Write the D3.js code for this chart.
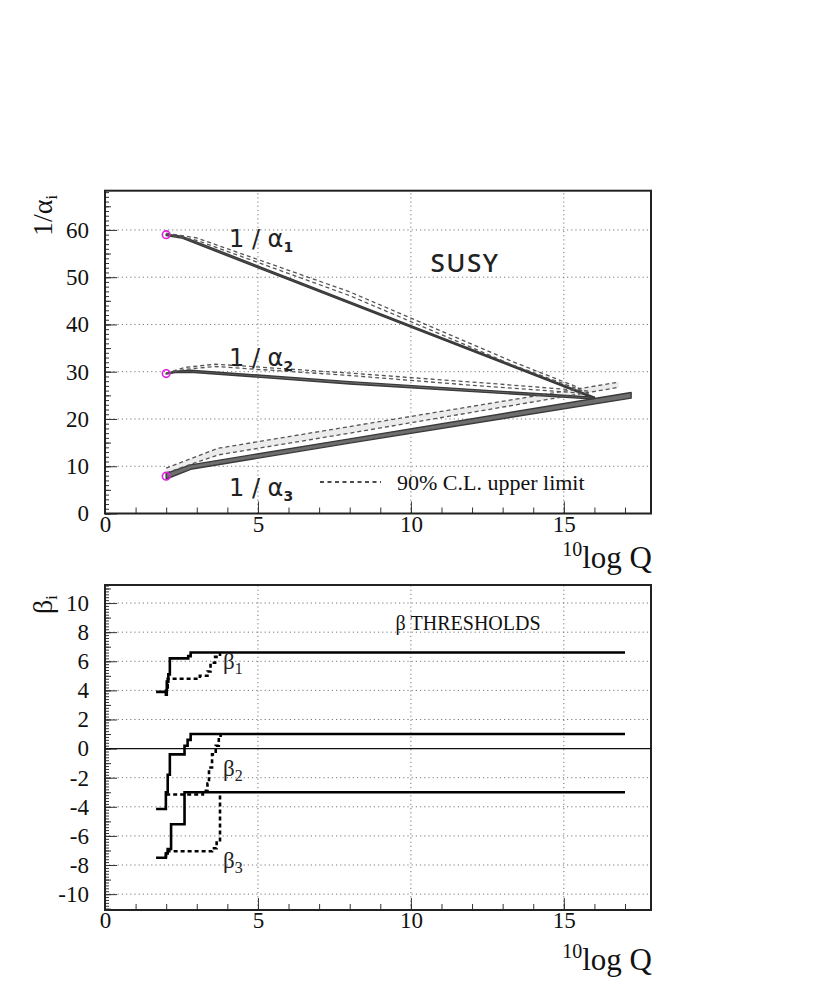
<!DOCTYPE html>
<html>
<head>
<meta charset="utf-8">
<script src="https://cdn.jsdelivr.net/npm/d3@7"></script>
<style>
  body { margin: 0; background: #fff; }
  text { font-family: "Liberation Serif", "Times New Roman", serif; }
</style>
</head>
<body>
<div id="chart"></div>
<script>
// ---- data ----
const xTicks = [0, 5, 10, 15];
const alphaTicks = [0, 10, 20, 30, 40, 50, 60];
const betaTicks = [-10, -8, -6, -4, -2, 0, 2, 4, 6, 8, 10];

// 1/alpha_i, solid band (upper / lower edge)
const alpha1Upper = [[2, 59.1], [2.5, 58.7], [16.0, 24.6]];
const alpha1Lower = [[2, 58.8], [2.5, 58.3], [16.0, 24.3]];
const alpha2Upper = [[2, 29.7], [2.3, 30.1], [2.8, 30.3], [8, 27.9], [16.0, 24.6]];
const alpha2Lower = [[2, 29.5], [2.3, 29.8], [2.8, 29.9], [8, 27.4], [16.0, 24.2]];
const alpha3Upper = [[2, 8.5], [2.8, 10.3], [8, 15.8], [17.2, 25.6]];
const alpha3Lower = [[2, 7.3], [2.8, 9.35], [8, 14.9], [17.2, 24.4]];

// 90% C.L. upper limit (dashed pairs)
const alpha1DashUp = [[2, 59.3], [3.0, 58.3], [8, 46.9], [13.3, 32.2], [15.5, 26.6]];
const alpha1DashLo = [[2, 59.0], [3.0, 57.8], [8, 46.1], [13.3, 31.5], [15.6, 26.0]];
const alpha2DashUp = [[2, 29.7], [2.6, 30.9], [3.6, 31.6], [8, 29.7], [12.25, 27.7], [15.8, 25.9]];
const alpha2DashLo = [[2, 29.6], [2.6, 30.5], [3.6, 31.1], [8, 29.2], [12.25, 27.0], [15.9, 25.3]];
const alpha3DashUp = [[2, 9.6], [3.7, 13.8], [8, 18.4], [16.8, 27.8]];
const alpha3DashLo = [[2, 8.6], [3.7, 12.4], [8, 17.0], [16.8, 26.7]];

// starting values at 10log Q = 2
const alphaStart = [59.0, 29.6, 7.9];

// beta thresholds: solid / dashed step lines
const beta1Solid = [[1.67, 3.9], [1.99, 3.9], [1.99, 3.7], [2.02, 3.7], [2.02, 4.6], [2.07, 4.6], [2.07, 5.1],
  [2.12, 5.1], [2.12, 6.2], [2.72, 6.2], [2.72, 6.35], [2.8, 6.35], [2.8, 6.6], [17, 6.6]];
const beta1Dash = [[2.0, 3.8], [2.0, 4.2], [2.05, 4.2], [2.05, 4.8], [3.1, 4.8], [3.1, 5.0], [3.35, 5.0],
  [3.35, 5.3], [3.45, 5.3], [3.45, 5.9], [3.6, 5.9], [3.6, 6.3], [3.76, 6.3], [3.76, 6.6]];
const beta2Solid = [[1.67, -4.15], [1.99, -4.15], [1.99, -3.0], [2.05, -3.0], [2.05, -1.8], [2.12, -1.8],
  [2.12, -0.4], [2.6, -0.4], [2.6, 0.2], [2.7, 0.2], [2.7, 0.6], [2.8, 0.6], [2.8, 1.0], [17, 1.0]];
const beta2Dash = [[2.0, -3.15], [3.2, -3.15], [3.2, -2.9], [3.35, -2.9], [3.35, -2.4], [3.4, -2.4],
  [3.4, -1.3], [3.5, -1.3], [3.5, -0.4], [3.62, -0.4], [3.62, 0.2], [3.72, 0.2], [3.72, 0.8], [3.78, 0.8], [3.78, 1.0]];
const beta3Solid = [[1.67, -7.5], [1.99, -7.5], [1.99, -7.2], [2.05, -7.2], [2.05, -6.9], [2.16, -6.9],
  [2.16, -5.2], [2.6, -5.2], [2.6, -3.0], [17, -3.0]];
const beta3Dash = [[1.99, -7.5], [2.0, -7.05], [3.5, -7.05], [3.5, -6.85], [3.65, -6.85], [3.65, -6.3],
  [3.76, -6.3], [3.76, -3.0]];

// ---- layout ----
const W = 817, H = 981;
const left = 105, right = 651;

const svg = d3.select("#chart").append("svg")
  .attr("width", W).attr("height", H)
  .attr("viewBox", [0, 0, W, H].join(" "));

const x = d3.scaleLinear().domain([0, 17.85]).range([left, right]);
const yTop = d3.scaleLinear().domain([0, 68.3]).range([513.5, 190.7]);
const yBot = d3.scaleLinear().domain([-11.09, 11.24]).range([910, 585]);

function range(a, b, step) {
  return d3.range(Math.round(a / step), Math.round(b / step) + 1).map(i => +(i * step).toFixed(4));
}

// draws frame, grid, ticks and tick labels of one panel
function panel(y, yMajor, yMinorStep, yMidStep, gridY, titleOffset) {
  const [y0, y1] = y.range();
  const g = svg.append("g");

  // dotted grid
  g.selectAll(".gx").data(xTicks.filter(d => d > 0)).enter().append("line")
    .attr("x1", d => x(d)).attr("x2", d => x(d)).attr("y1", y0).attr("y2", y1)
    .attr("stroke", "#777").attr("stroke-width", 1).attr("stroke-dasharray", "1.2,3");
  g.selectAll(".gy").data(gridY).enter().append("line")
    .attr("x1", left).attr("x2", right).attr("y1", d => y(d)).attr("y2", d => y(d))
    .attr("stroke", "#777").attr("stroke-width", 1).attr("stroke-dasharray", "1.2,3");

  // y ticks, pointing inwards
  const yd = y.domain();
  const yMinor = range(Math.ceil(yd[0] / yMinorStep) * yMinorStep, Math.floor(yd[1] / yMinorStep) * yMinorStep, yMinorStep);
  g.append("g").attr("transform", `translate(${left},0)`)
    .call(d3.axisLeft(y).tickValues(yMinor).tickSize(-4).tickFormat(""))
    .call(a => a.select(".domain").remove());
  g.append("g").attr("transform", `translate(${left},0)`)
    .call(d3.axisLeft(y).tickValues(yMinor.filter(v => Math.abs(v / yMidStep - Math.round(v / yMidStep)) < 1e-6)).tickSize(-6).tickFormat(""))
    .call(a => a.select(".domain").remove());
  g.append("g").attr("transform", `translate(${left},0)`)
    .call(d3.axisLeft(y).tickValues(yMajor).tickSizeInner(-12).tickSizeOuter(0).tickPadding(16).tickFormat(d => String(d)))
    .call(a => a.select(".domain").remove())
    .call(a => a.selectAll("text").style("font-size", "23px").attr("fill", "#111"));

  // x ticks, pointing inwards
  g.append("g").attr("transform", `translate(0,${y0})`)
    .call(d3.axisBottom(x).tickValues(d3.range(0, 18)).tickSize(-6).tickFormat(""))
    .call(a => a.select(".domain").remove());
  g.append("g").attr("transform", `translate(0,${y0})`)
    .call(d3.axisBottom(x).tickValues(xTicks).tickSizeInner(-12).tickSizeOuter(0).tickPadding(2).tickFormat(d => String(d)))
    .call(a => a.select(".domain").remove())
    .call(a => a.selectAll("text").style("font-size", "23px").attr("fill", "#111"));

  g.selectAll(".tick line").attr("stroke", "#333");

  // frame
  g.append("rect")
    .attr("x", left).attr("y", y1).attr("width", right - left).attr("height", y0 - y1)
    .attr("fill", "none").attr("stroke", "#222").attr("stroke-width", 2);

  // x title
  const t = g.append("text").attr("x", 652).attr("y", y0 + titleOffset).attr("text-anchor", "end")
    .attr("font-size", 31).attr("fill", "#111");
  t.append("tspan").attr("font-size", 20).attr("dy", -12).text("10");
  t.append("tspan").attr("dy", 12).text("log Q");
  return g;
}

const topPanel = panel(yTop, alphaTicks, 1, 5, alphaTicks.filter(d => d > 0), 54.5);
const botPanel = panel(yBot, betaTicks, 0.2, 1, betaTicks.filter(d => d !== 0), 60);

// ---- top panel: 1/alpha_i ----
const lineT = d3.line().x(d => x(d[0])).y(d => yTop(d[1]));
const bandT = (up, lo) => lineT(up.concat(lo.slice().reverse())) + "Z";

// light fill between the dashed limits of alpha3
topPanel.append("path").attr("d", bandT(alpha3DashUp, alpha3DashLo))
  .attr("fill", "#ececec").attr("stroke", "none");

[[alpha1Upper, alpha1Lower], [alpha2Upper, alpha2Lower], [alpha3Upper, alpha3Lower]].forEach(([up, lo]) => {
  topPanel.append("path").attr("d", bandT(up, lo))
    .attr("fill", "#6e6e6e").attr("stroke", "#3a3a3a").attr("stroke-width", 1.4).attr("stroke-linejoin", "round");
});

[alpha1DashUp, alpha1DashLo, alpha2DashUp, alpha2DashLo, alpha3DashUp, alpha3DashLo].forEach(d => {
  topPanel.append("path").attr("d", lineT(d))
    .attr("fill", "none").attr("stroke", "#555").attr("stroke-width", 1.3).attr("stroke-dasharray", "4,3");
});

topPanel.selectAll(".start").data(alphaStart).enter().append("circle")
  .attr("cx", x(2)).attr("cy", d => yTop(d)).attr("r", 3.8)
  .attr("fill", "none").attr("stroke", "#e020e0").attr("stroke-width", 1.6);

// labels
[["1", 247], ["2", 366], ["3", 496]].forEach(([i, yy]) => {
  const t = topPanel.append("text").attr("x", 229).attr("y", yy)
    .style("font-family", "'DejaVu Sans'").attr("font-size", 24).attr("fill", "#222");
  t.append("tspan").text("1 / α");
  t.append("tspan").attr("font-size", 14).attr("font-weight", "bold").attr("dy", 5).text(i);
});
topPanel.append("text").attr("x", 465).attr("y", 272).attr("text-anchor", "middle")
  .style("font-family", "'Noto Sans'").attr("font-weight", 500).attr("font-size", 26)
  .attr("letter-spacing", 1.5).attr("fill", "#222").text("SUSY");

topPanel.append("line").attr("x1", 320).attr("x2", 381).attr("y1", 482).attr("y2", 482)
  .attr("stroke", "#111").attr("stroke-width", 1.5).attr("stroke-dasharray", "4,3.5");
topPanel.append("text").attr("x", 397).attr("y", 490).attr("font-size", 22).attr("fill", "#111").text("90% C.L. upper limit");

const ty = topPanel.append("text").attr("transform", "translate(52,236) rotate(-90)").attr("font-size", 28).attr("fill", "#111");
ty.append("tspan").text("1/α");
ty.append("tspan").attr("font-size", 16).attr("dy", 5).text("i");

// ---- bottom panel: beta_i ----
const lineB = d3.line().x(d => x(d[0])).y(d => yBot(d[1]));

botPanel.append("line").attr("x1", left).attr("x2", right).attr("y1", yBot(0)).attr("y2", yBot(0))
  .attr("stroke", "#111").attr("stroke-width", 1.2);

[beta1Dash, beta2Dash, beta3Dash].forEach(d => {
  botPanel.append("path").attr("d", lineB(d))
    .attr("fill", "none").attr("stroke", "#000").attr("stroke-width", 2.6).attr("stroke-dasharray", "4,3");
});
[beta1Solid, beta2Solid, beta3Solid].forEach(d => {
  botPanel.append("path").attr("d", lineB(d))
    .attr("fill", "none").attr("stroke", "#000").attr("stroke-width", 2.6);
});

[["1", 669], ["2", 776], ["3", 868]].forEach(([i, yy]) => {
  const t = botPanel.append("text").attr("x", 223).attr("y", yy).attr("font-size", 23).attr("fill", "#222");
  t.append("tspan").text("β");
  t.append("tspan").attr("font-size", 16).attr("dy", 5).text(i);
});
botPanel.append("text").attr("x", 468).attr("y", 630).attr("text-anchor", "middle")
  .attr("font-size", 20).attr("fill", "#111").text("β THRESHOLDS");

const tb = botPanel.append("text").attr("transform", "translate(52,614) rotate(-90)").attr("font-size", 28).attr("fill", "#111");
tb.append("tspan").text("β");
tb.append("tspan").attr("font-size", 16).attr("dy", 5).text("i");
</script>
</body>
</html>
